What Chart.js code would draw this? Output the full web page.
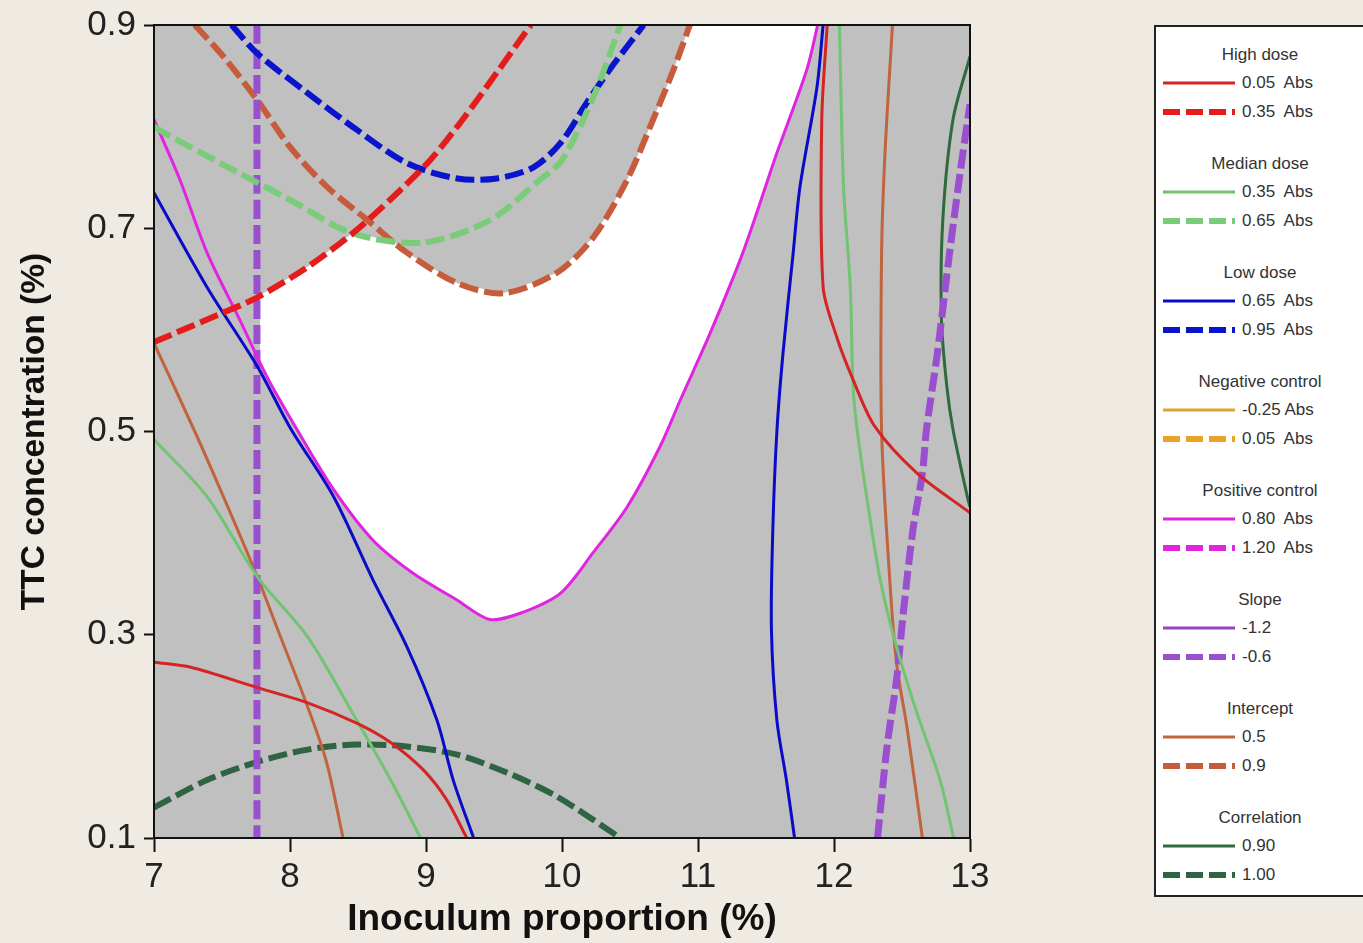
<!DOCTYPE html>
<html>
<head>
<meta charset="utf-8">
<title>Overlay contour plot</title>
<script src="https://cdn.jsdelivr.net/npm/chart.js@4.4.1/dist/chart.umd.min.js"></script>
<style>
  body { margin: 0; background: #efebe2; font-family: 'Liberation Sans', Arial, sans-serif; overflow: hidden; }
  #wrap { position: absolute; left: 0; top: 0; width: 1010px; height: 943px; }
  #legend { position: absolute; left: 1154px; top: 25px; width: 240px; height: 872px; background: #fff; border: 2px solid #222; box-sizing: border-box; }
  .lg-title, .lg-label { position: absolute; font-size: 17px; color: #333; line-height: 20px; white-space: pre; }
  .lg-title { left: 4px; width: 200px; text-align: center; }
  .lg-label { left: 86px; }
  .lg-line { position: absolute; left: 7px; }
</style>
</head>
<body>
<div id="wrap"><canvas id="contourChart"></canvas></div>
<div id="legend"></div>
<script>
const X_TICKS = [7, 8, 9, 10, 11, 12, 13];
const Y_TICKS = [0.1, 0.3, 0.5, 0.7, 0.9];

const GROUP_NAMES = ['High dose', 'Median dose', 'Low dose', 'Negative control', 'Positive control', 'Slope', 'Intercept', 'Correlation'];
const LOWER_LABELS = ['0.05  Abs', '0.35  Abs', '0.65  Abs', '-0.25 Abs', '0.80  Abs', '-1.2', '0.5', '0.90'];
const UPPER_LABELS = ['0.35  Abs', '0.65  Abs', '0.95  Abs', '0.05  Abs', '1.20  Abs', '-0.6', '0.9', '1.00'];
const SOLID_COLORS = ['#d42424', '#72c472', '#0a0ac8', '#d8a628', '#e024e0', '#9444c4', '#c0643e', '#2e6a3c'];
const DASH_COLORS = ['#e41c1c', '#7acc7a', '#0a14cc', '#e8a428', '#e024e0', '#9a4ed0', '#c65c3c', '#2f6442'];

// contour lines, [inoculum %, TTC %]
const HIGH_005_LEFT = [[7, 0.273], [7.27, 0.268], [7.76, 0.248], [8.13, 0.233], [8.49, 0.213], [8.74, 0.194], [8.98, 0.167], [9.15, 0.138], [9.3, 0.1]];
const HIGH_005_RIGHT = [[11.95, 0.9], [11.91, 0.807], [11.92, 0.642], [12.02, 0.593], [12.14, 0.551], [12.3, 0.505], [12.61, 0.459], [13, 0.42]];
const HIGH_035 = [[7, 0.588], [7.51, 0.617], [7.76, 0.632], [8.13, 0.662], [8.46, 0.695], [8.76, 0.731], [9.03, 0.767], [9.27, 0.807], [9.52, 0.853], [9.77, 0.9]];
const MED_035_LEFT = [[7, 0.492], [7.39, 0.436], [7.76, 0.357], [8.13, 0.298], [8.49, 0.216], [8.74, 0.157], [8.96, 0.1]];
const MED_035_RIGHT = [[12.04, 0.9], [12.07, 0.741], [12.12, 0.642], [12.14, 0.544], [12.17, 0.502], [12.24, 0.436], [12.34, 0.354], [12.46, 0.288], [12.61, 0.223], [12.78, 0.157], [12.88, 0.1]];
const MED_065 = [[7, 0.8], [7.1, 0.792], [7.63, 0.754], [8.0, 0.728], [8.46, 0.695], [8.98, 0.686], [9.47, 0.708], [9.84, 0.748], [10.0, 0.767], [10.23, 0.829], [10.43, 0.9]];
const LOW_065_LEFT = [[7, 0.735], [7.39, 0.642], [7.76, 0.564], [8.0, 0.504], [8.32, 0.436], [8.61, 0.354], [8.86, 0.288], [9.08, 0.216], [9.2, 0.157], [9.35, 0.1]];
const LOW_065_RIGHT = [[11.92, 0.9], [11.875, 0.839], [11.75, 0.741], [11.7, 0.676], [11.625, 0.577], [11.58, 0.5], [11.55, 0.403], [11.54, 0.305], [11.58, 0.216], [11.65, 0.157], [11.71, 0.1]];
const LOW_095 = [[7.57, 0.9], [7.76, 0.872], [8.13, 0.833], [8.49, 0.797], [8.86, 0.764], [9.23, 0.749], [9.52, 0.749], [9.79, 0.76], [9.99, 0.784], [10.18, 0.823], [10.35, 0.856], [10.6, 0.9]];
const POS_080 = [[7, 0.807], [7.19, 0.748], [7.39, 0.676], [7.63, 0.61], [7.83, 0.554], [8.06, 0.5], [8.32, 0.443], [8.61, 0.393], [8.9, 0.361], [9.23, 0.334], [9.47, 0.315], [9.71, 0.322], [9.99, 0.341], [10.23, 0.381], [10.48, 0.426], [10.72, 0.485], [10.87, 0.531], [11.09, 0.597], [11.33, 0.676], [11.58, 0.774], [11.8, 0.856], [11.88, 0.9]];
const SLOPE_06_LEFT = [[7.757, 0.9], [7.757, 0.1]];
const SLOPE_06_RIGHT = [[12.32, 0.1], [12.39, 0.19], [12.46, 0.256], [12.51, 0.322], [12.58, 0.403], [12.65, 0.459], [12.68, 0.502], [12.76, 0.577], [12.85, 0.676], [12.93, 0.757], [13, 0.822]];
const INT_05_LEFT = [[7, 0.587], [7.3, 0.5], [7.51, 0.436], [7.76, 0.357], [7.93, 0.298], [8.13, 0.229], [8.27, 0.174], [8.39, 0.1]];
const INT_05_RIGHT = [[12.43, 0.9], [12.375, 0.774], [12.35, 0.676], [12.35, 0.5], [12.41, 0.354], [12.46, 0.272], [12.54, 0.206], [12.65, 0.1]];
const INT_09 = [[7.3, 0.9], [7.51, 0.869], [7.76, 0.826], [8.0, 0.78], [8.27, 0.741], [8.57, 0.708], [8.86, 0.676], [9.23, 0.646], [9.57, 0.636], [9.96, 0.656], [10.23, 0.691], [10.48, 0.748], [10.67, 0.807], [10.82, 0.856], [10.94, 0.9]];
const CORR_090 = [[13, 0.869], [12.875, 0.807], [12.8, 0.708], [12.79, 0.61], [12.83, 0.544], [12.875, 0.502], [12.98, 0.436], [13, 0.426]];
const CORR_100 = [[7, 0.13], [7.39, 0.157], [7.76, 0.175], [8.13, 0.187], [8.49, 0.192], [8.86, 0.19], [9.23, 0.182], [9.6, 0.164], [9.96, 0.141], [10.43, 0.1]];

// feasible (white) region outline
const FEASIBLE = [[7.78, 0.634], [8.13, 0.662], [8.46, 0.695], [8.75, 0.688], [8.86, 0.676], [9.23, 0.646], [9.57, 0.636], [9.96, 0.656], [10.23, 0.691], [10.48, 0.748], [10.67, 0.807], [10.82, 0.856], [10.94, 0.9],
  [11.88, 0.9], [11.8, 0.856], [11.58, 0.774], [11.33, 0.676], [11.09, 0.597], [10.87, 0.531], [10.72, 0.485], [10.48, 0.426], [10.23, 0.381], [9.99, 0.341], [9.71, 0.322], [9.47, 0.315], [9.23, 0.334], [8.9, 0.361], [8.61, 0.393], [8.32, 0.443], [8.06, 0.5], [7.83, 0.554], [7.78, 0.566]];

// group index, dashed?, points
const CURVES = [
  [0, false, HIGH_005_LEFT], [0, false, HIGH_005_RIGHT], [0, true, HIGH_035],
  [1, false, MED_035_LEFT], [1, false, MED_035_RIGHT], [1, true, MED_065],
  [2, false, LOW_065_LEFT], [2, false, LOW_065_RIGHT], [2, true, LOW_095],
  [4, false, POS_080],
  [5, true, SLOPE_06_LEFT], [5, true, SLOPE_06_RIGHT],
  [6, false, INT_05_LEFT], [6, false, INT_05_RIGHT], [6, true, INT_09],
  [7, false, CORR_090], [7, true, CORR_100]
];

const toXY = pts => pts.map(([x, y]) => ({ x, y }));

Chart.defaults.font.family = "'Liberation Sans', Arial, sans-serif";

const datasets = CURVES.map(([g, dashed, pts]) => ({
  data: toXY(pts),
  showLine: true,
  borderColor: dashed ? DASH_COLORS[g] : SOLID_COLORS[g],
  borderWidth: dashed ? (g === 5 ? 7 : 6) : 3,
  borderDash: dashed ? [19, 6] : [],
  pointRadius: 0,
  tension: 0.3,
  fill: false,
  order: 0
}));
datasets.push({
  data: toXY(FEASIBLE),
  showLine: true,
  borderWidth: 0,
  borderColor: 'rgba(0,0,0,0)',
  backgroundColor: '#ffffff',
  pointRadius: 0,
  tension: 0,
  fill: 'shape',
  order: 10
});

const plotFrame = {
  id: 'plotFrame',
  beforeDatasetsDraw(chart) {
    const { ctx, chartArea: a } = chart;
    ctx.save();
    ctx.fillStyle = '#c0c0c0';
    ctx.fillRect(a.left, a.top, a.right - a.left, a.bottom - a.top);
    ctx.restore();
  },
  afterDatasetsDraw(chart) {
    const { ctx, chartArea: a } = chart;
    ctx.save();
    ctx.strokeStyle = '#111';
    ctx.lineWidth = 2;
    ctx.strokeRect(a.left, a.top, a.right - a.left, a.bottom - a.top);
    ctx.restore();
  }
};

new Chart(document.getElementById('contourChart'), {
  type: 'scatter',
  data: { datasets },
  plugins: [plotFrame],
  options: {
    responsive: true, maintainAspectRatio: false, animation: false,
    layout: { padding: { top: 25, right: 40, left: 0, bottom: 0 } },
    plugins: { legend: { display: false }, tooltip: { enabled: false } },
    scales: {
      x: {
        type: 'linear', min: 7, max: 13,
        afterBuildTicks: s => { s.ticks = X_TICKS.map(v => ({ value: v })); },
        afterFit: s => { s.height = 105; s.paddingLeft = 0; s.paddingRight = 0; },
        grid: { drawOnChartArea: false, tickLength: 14, tickColor: '#111', tickWidth: 2 },
        border: { display: true, color: '#111', width: 2 },
        ticks: { font: { size: 35 }, color: '#222', padding: 4, maxRotation: 0, autoSkip: false },
        title: { display: true, text: 'Inoculum proportion (%)', font: { size: 37, weight: 'bold' }, color: '#111', padding: { top: 0, bottom: 1 } }
      },
      y: {
        type: 'linear', min: 0.1, max: 0.9,
        afterBuildTicks: s => { s.ticks = Y_TICKS.map(v => ({ value: v })); },
        afterFit: s => { s.width = 154; s.paddingTop = 0; s.paddingBottom = 0; },
        grid: { drawOnChartArea: false, tickLength: 10, tickColor: '#111', tickWidth: 2 },
        border: { display: true, color: '#111', width: 2 },
        ticks: { callback: v => v.toFixed(1), font: { size: 35 }, color: '#222', padding: 8 },
        title: { display: true, text: 'TTC concentration (%)', font: { size: 33.5, weight: 'bold' }, color: '#111', padding: { top: 15, bottom: 0 } }
      }
    }
  }
});

// grouped legend on the right
const legend = document.getElementById('legend');
function addText(text, cls, centerY) {
  const d = document.createElement('div');
  d.className = cls;
  d.textContent = text;
  d.style.top = (centerY - 10) + 'px';
  legend.appendChild(d);
}
function addSample(color, dashed, centerY) {
  const svg = `<svg class="lg-line" width="72" height="10" style="top:${centerY - 5}px">` +
    `<line x1="0" y1="5" x2="72" y2="5" stroke="${color}" stroke-width="${dashed ? 6 : 3}"${dashed ? ' stroke-dasharray="17 6"' : ''}/></svg>`;
  legend.insertAdjacentHTML('beforeend', svg);
}
GROUP_NAMES.forEach((name, i) => {
  const top = 28 + i * 109;
  addText(name, 'lg-title', top);
  addSample(SOLID_COLORS[i], false, top + 28);
  addText(LOWER_LABELS[i], 'lg-label', top + 28);
  addSample(DASH_COLORS[i], true, top + 57);
  addText(UPPER_LABELS[i], 'lg-label', top + 57);
});
</script>
</body>
</html>
